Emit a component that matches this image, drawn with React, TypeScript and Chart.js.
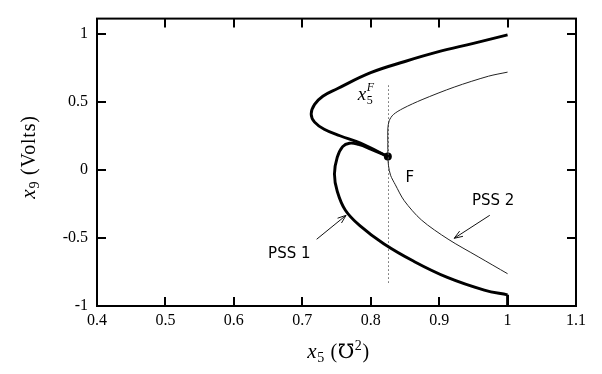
import { useEffect, useRef } from "react";
import { Chart, registerables } from "chart.js";

Chart.register(...registerables);

// ---- data ----
const xTickValues = [0.4, 0.5, 0.6, 0.7, 0.8, 0.9, 1.0, 1.1];
const yTickValues = [-1, -0.5, 0, 0.5, 1];

const pointF: [number, number] = [0.825, 0.097];
const x5F = 0.826;
const x5FLineY: [number, number] = [0.62, -0.83];

const pss1Upper: [number, number][] = [
  [1.0, 0.99], [0.95, 0.928], [0.898, 0.865], [0.85, 0.795], [0.8, 0.713],
  [0.751, 0.595], [0.73, 0.54], [0.718, 0.48], [0.713, 0.41], [0.718, 0.35],
  [0.732, 0.298], [0.755, 0.25], [0.785, 0.196], [0.825, 0.097],
];
const pss1Lower: [number, number][] = [
  [0.825, 0.097], [0.8, 0.152], [0.782, 0.186], [0.769, 0.195], [0.759, 0.17],
  [0.751, 0.09], [0.747, -0.03], [0.751, -0.156], [0.763, -0.297], [0.785, -0.414],
  [0.819, -0.543], [0.863, -0.672], [0.912, -0.79], [0.966, -0.883], [1.0, -0.918],
];
const pss1Drop: [number, number][] = [[1.0, -0.918], [1.0, -1.0]];

const pss2Upper: [number, number][] = [
  [0.825, 0.097], [0.825, 0.2], [0.825, 0.3], [0.827, 0.36], [0.833, 0.405],
  [0.847, 0.45], [0.875, 0.515], [0.922, 0.607], [0.972, 0.687], [1.0, 0.717],
];
const pss2Lower: [number, number][] = [
  [0.825, 0.097], [0.826, 0.03], [0.829, -0.04], [0.836, -0.11], [0.849, -0.227],
  [0.874, -0.368], [0.913, -0.509], [0.957, -0.638], [1.0, -0.763],
];

// annotation anchors (data coordinates)
const labelPSS1: [number, number] = [0.681, -0.616];
const arrowPSS1: [[number, number], [number, number]] = [[0.721, -0.51], [0.764, -0.334]];
const labelPSS2: [number, number] = [0.979, -0.229];
const arrowPSS2: [[number, number], [number, number]] = [[0.974, -0.334], [0.922, -0.503]];
const labelF: [number, number] = [0.857, -0.06];
const labelX5F: [number, number] = [0.781, 0.51];

const toPts = (a: [number, number][]) => a.map(([x, y]) => ({ x, y }));

const SERIF = "'Liberation Serif', 'DejaVu Serif', serif";
const SANS = "'DejaVu Sans', 'Liberation Sans', sans-serif";

type Part = { t: string; font: string; dy?: number };

function drawRich(ctx: CanvasRenderingContext2D, parts: Part[], x: number, y: number, align: "left" | "center") {
  ctx.save();
  ctx.textBaseline = "alphabetic";
  ctx.textAlign = "left";
  let total = 0;
  const widths = parts.map((p) => {
    ctx.font = p.font;
    const w = ctx.measureText(p.t).width;
    total += w;
    return w;
  });
  let cx = align === "center" ? x - total / 2 : x;
  parts.forEach((p, i) => {
    ctx.font = p.font;
    ctx.fillText(p.t, cx, y + (p.dy || 0));
    cx += widths[i];
  });
  ctx.restore();
}

function arrow(ctx: CanvasRenderingContext2D, x1: number, y1: number, x2: number, y2: number) {
  ctx.save();
  ctx.strokeStyle = "#111";
  ctx.lineWidth = 1;
  ctx.beginPath();
  ctx.moveTo(x1, y1);
  ctx.lineTo(x2, y2);
  ctx.stroke();
  const ang = Math.atan2(y2 - y1, x2 - x1);
  const L = 9;
  const spread = 0.35;
  ctx.beginPath();
  ctx.moveTo(x2 - L * Math.cos(ang - spread), y2 - L * Math.sin(ang - spread));
  ctx.lineTo(x2, y2);
  ctx.lineTo(x2 - L * Math.cos(ang + spread), y2 - L * Math.sin(ang + spread));
  ctx.stroke();
  ctx.restore();
}

const framePlugin = {
  id: "frameAndNotes",
  afterDatasetsDraw(chart: any) {
    const ctx: CanvasRenderingContext2D = chart.ctx;
    const { left, right, top, bottom } = chart.chartArea;
    const xs = chart.scales.x;
    const ys = chart.scales.y;
    ctx.save();
    ctx.strokeStyle = "#000";
    ctx.lineWidth = 2;
    ctx.strokeRect(left, top, right - left, bottom - top);
    const T = 9;
    ctx.beginPath();
    xTickValues.slice(1, -1).forEach((v) => {
      const px = Math.round(xs.getPixelForValue(v));
      ctx.moveTo(px, bottom);
      ctx.lineTo(px, bottom - T);
      ctx.moveTo(px, top);
      ctx.lineTo(px, top + T);
    });
    yTickValues.slice(1).forEach((v) => {
      const py = Math.round(ys.getPixelForValue(v));
      ctx.moveTo(left, py);
      ctx.lineTo(left + T, py);
      ctx.moveTo(right, py);
      ctx.lineTo(right - T, py);
    });
    ctx.stroke();
    ctx.restore();

    ctx.fillStyle = "#000";
    const P = (p: [number, number]) => [xs.getPixelForValue(p[0]), ys.getPixelForValue(p[1])];
    const [fx, fy] = P(labelF);
    ctx.save();
    ctx.font = `15px ${SANS}`;
    ctx.textAlign = "center";
    ctx.textBaseline = "middle";
    ctx.fillText("F", fx, fy);
    const [p2x, p2y] = P(labelPSS2);
    ctx.fillText("PSS 2", p2x, p2y);
    const [p1x, p1y] = P(labelPSS1);
    ctx.fillText("PSS 1", p1x, p1y);
    ctx.restore();

    const a1 = P(arrowPSS1[0]), b1 = P(arrowPSS1[1]);
    arrow(ctx, a1[0], a1[1], b1[0], b1[1]);
    const a2 = P(arrowPSS2[0]), b2 = P(arrowPSS2[1]);
    arrow(ctx, a2[0], a2[1], b2[0], b2[1]);

    const [lx, ly] = P(labelX5F);
    drawRich(ctx, [{ t: "x", font: `italic 19px ${SERIF}` }], lx, ly, "left");
    ctx.save();
    ctx.font = `italic 19px ${SERIF}`;
    const xw = ctx.measureText("x").width;
    ctx.restore();
    drawRich(ctx, [{ t: "5", font: `12px ${SERIF}` }], lx + xw + 0.5, ly + 4, "left");
    drawRich(ctx, [{ t: "F", font: `italic 12px ${SERIF}` }], lx + xw + 0.5, ly - 9, "left");

    // axis titles
    const cx = (left + right) / 2;
    ctx.save();
    (ctx as any).letterSpacing = "0.6px";
    drawRich(ctx, [
      { t: "x", font: `italic 21px ${SERIF}` },
      { t: "5", font: `14px ${SERIF}`, dy: 4 },
      { t: " (℧", font: `20px ${SERIF}` },
      { t: "2", font: `14px ${SERIF}`, dy: -8 },
      { t: ")", font: `20px ${SERIF}` },
    ], cx + 2, 358, "center");
    ctx.restore();

    ctx.save();
    ctx.translate(35, 157);
    ctx.rotate(-Math.PI / 2);
    (ctx as any).letterSpacing = "0.8px";
    drawRich(ctx, [
      { t: "x", font: `italic 21px ${SERIF}` },
      { t: "9", font: `14px ${SERIF}`, dy: 4 },
      { t: " (Volts)", font: `20px ${SERIF}` },
    ], 0, 0, "center");
    ctx.restore();
  },
};

export default function App() {
  const ref = useRef<HTMLCanvasElement | null>(null);
  useEffect(() => {
    if (!ref.current) return;
    const thick = { borderColor: "#000", borderWidth: 2.9, pointRadius: 0, showLine: true, tension: 0.4, fill: false };
    const thin = { borderColor: "#222", borderWidth: 1, pointRadius: 0, showLine: true, tension: 0.3, fill: false };
    const chart = new Chart(ref.current, {
      type: "scatter",
      data: {
        datasets: [
          { ...thick, label: "PSS 1 upper", data: toPts(pss1Upper) },
          { ...thick, label: "PSS 1 lower", data: toPts(pss1Lower) },
          { ...thick, label: "PSS 1 drop", data: toPts(pss1Drop), tension: 0 },
          { ...thin, label: "PSS 2 upper", data: toPts(pss2Upper) },
          { ...thin, label: "PSS 2 lower", data: toPts(pss2Lower) },
          {
            label: "x5F", data: [{ x: x5F, y: x5FLineY[0] }, { x: x5F, y: x5FLineY[1] }],
            borderColor: "#666", borderWidth: 1, borderDash: [1.5, 2.5], pointRadius: 0, showLine: true, tension: 0,
          },
          {
            label: "F", data: [{ x: pointF[0], y: pointF[1] }], showLine: false,
            pointRadius: 4, pointBackgroundColor: "#000", pointBorderColor: "#000", pointBorderWidth: 0,
          },
        ],
      },
      options: {
        responsive: false,
        animation: false,
        layout: { padding: { left: 0, right: 26, top: 6, bottom: 0 } },
        plugins: { legend: { display: false }, tooltip: { enabled: false } },
        scales: {
          x: {
            type: "linear",
            min: 0.4,
            max: 1.1,
            afterBuildTicks: (s: any) => { s.ticks = xTickValues.map((v) => ({ value: v })); },
            afterFit: (s: any) => { s.height = 68; },
            grid: { display: false, drawTicks: false },
            border: { display: false },
            ticks: {
              padding: 5,
              color: "#000",
              autoSkip: false,
              maxRotation: 0,
              font: { family: SERIF, size: 16 },
              callback: (v: any) => String(Number(Number(v).toFixed(2))),
            },
          },
          y: {
            type: "linear",
            min: -1,
            max: 1.11,
            afterBuildTicks: (s: any) => { s.ticks = yTickValues.map((v) => ({ value: v })); },
            afterFit: (s: any) => { s.width = 97; },
            grid: { display: false, drawTicks: false },
            border: { display: false },
            ticks: {
              padding: 9,
              color: "#000",
              autoSkip: false,
              font: { family: SERIF, size: 16 },
              callback: (v: any) => String(Number(Number(v).toFixed(2))),
            },
          },
        },
      },
      plugins: [framePlugin],
    });
    return () => chart.destroy();
  }, []);
  return (
    <div style={{ position: "absolute", left: 0, top: 0, width: 602, height: 374, background: "#fff" }}>
      <canvas ref={ref} width={602} height={374} style={{ display: "block", width: 602, height: 374 }} />
    </div>
  );
}
